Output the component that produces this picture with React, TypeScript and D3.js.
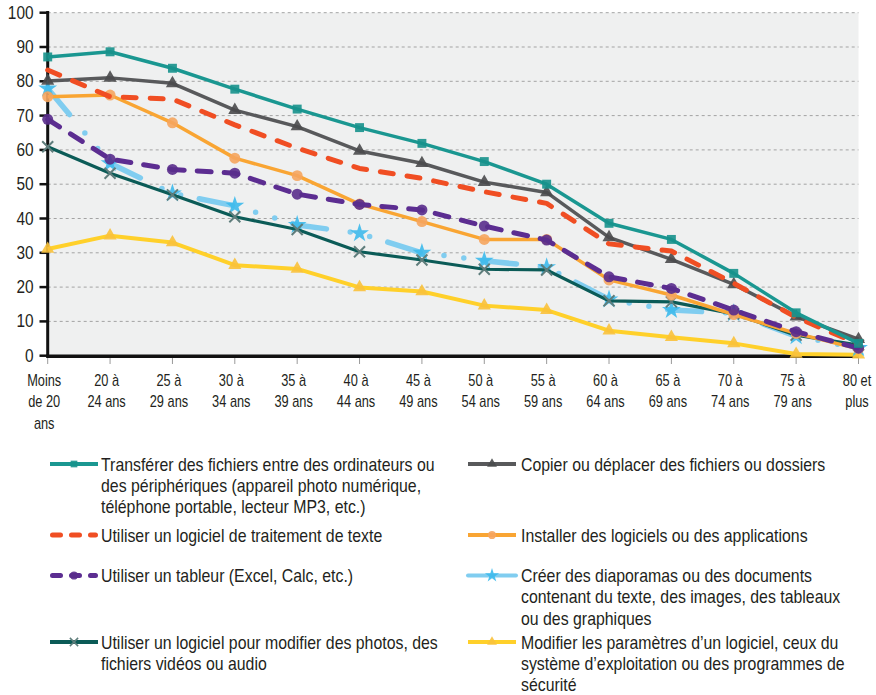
import React, { useEffect, useRef } from 'react';
import * as d3 from 'd3';

// age groups (x axis), each label split into its printed lines
const ageGroups = [
    ['Moins', 'de 20', 'ans'], ['20 à', '24 ans'], ['25 à', '29 ans'], ['30 à', '34 ans'],
    ['35 à', '39 ans'], ['40 à', '44 ans'], ['45 à', '49 ans'], ['50 à', '54 ans'],
    ['55 à', '59 ans'], ['60 à', '64 ans'], ['65 à', '69 ans'], ['70 à', '74 ans'],
    ['75 à', '79 ans'], ['80 et', 'plus'],
];
const yTicks = [0, 10, 20, 30, 40, 50, 60, 70, 80, 90, 100];

// % per age group
const transferer = [87.1, 88.6, 83.8, 77.7, 71.9, 66.5, 61.9, 56.6, 50.0, 38.6, 33.9, 24.0, 12.5, 3.6];
const copier = [80.1, 81.0, 79.4, 71.6, 66.8, 59.7, 56.1, 50.6, 47.6, 34.5, 28.1, 20.8, 11.4, 4.8];
const traitementTexte = [83.3, 75.5, 74.8, 67.3, 60.5, 54.6, 51.7, 47.8, 44.4, 32.6, 30.5, 21.1, 11.2, 3.4];
const installer = [75.5, 76.0, 67.9, 57.6, 52.5, 44.2, 39.1, 33.9, 33.9, 22.1, 17.7, 12.0, 6.5, 2.0];
const tableur = [68.9, 57.3, 54.3, 53.2, 47.1, 44.1, 42.5, 37.8, 33.7, 23.0, 19.6, 13.3, 7.0, 2.2];
const diaporamas = [77.9, 56.1, 47.3, 43.7, 38.1, 35.7, 30.0, 27.7, 25.8, 16.4, 13.3, 12.4, 5.7, 2.2];
const photos = [60.9, 53.2, 46.9, 40.5, 36.8, 30.3, 27.9, 25.2, 25.0, 16.0, 15.7, 12.2, 6.0, 3.1];
const parametres = [31.1, 35.0, 33.0, 26.4, 25.3, 19.9, 18.7, 14.6, 13.3, 7.3, 5.4, 3.6, 0.5, 0.3];

// Arial metrics squeezed horizontally to stand in for the condensed face
const FONT = "'Liberation Sans', Arial, sans-serif";

const series = [
    { key: 'param', values: parametres, color: '#ffd02a', width: 4, dash: null, marker: 'triangle', mColor: '#f9c23c',
      label: ['Modifier les paramètres d’un logiciel, ceux du', 'système d’exploitation ou des programmes de', 'sécurité'], col: 1, row: 3 },
    { key: 'diapo', values: diaporamas, color: '#80cdf0', width: 5.5, dash: '34 24 0 20 0 19', marker: 'star', mColor: '#3dbaec',
      label: ['Créer des diaporamas ou des documents', 'contenant du texte, des images, des tableaux', 'ou des graphiques'], col: 1, row: 2 },
    { key: 'photo', values: photos, color: '#0b5b57', width: 3.2, dash: null, marker: 'x', mColor: '#5f7d7b',
      label: ['Utiliser un logiciel pour modifier des photos, des', 'fichiers vidéos ou audio'], col: 0, row: 3 },
    { key: 'install', values: installer, color: '#f9a533', width: 3.5, dash: null, marker: 'circle', mColor: '#f6a55e',
      label: ['Installer des logiciels ou des applications'], col: 1, row: 1 },
    { key: 'tableur', values: tableur, color: '#5c2d91', width: 5, dash: '14 13', marker: 'circle', mColor: '#5a2d8c',
      label: ['Utiliser un tableur (Excel, Calc, etc.)'], col: 0, row: 2 },
    { key: 'copier', values: copier, color: '#58595b', width: 3.5, dash: null, marker: 'triangle', mColor: '#4a4b4d',
      label: ['Copier ou déplacer des fichiers ou dossiers'], col: 1, row: 0 },
    { key: 'texte', values: traitementTexte, color: '#f04e23', width: 5, dash: '13 14', marker: null, mColor: null,
      label: ['Utiliser un logiciel de traitement de texte'], col: 0, row: 1 },
    { key: 'transf', values: transferer, color: '#1a9791', width: 3.5, dash: null, marker: 'square', mColor: '#16928c',
      label: ['Transférer des fichiers entre des ordinateurs ou', 'des périphériques (appareil photo numérique,', 'téléphone portable, lecteur MP3, etc.)'], col: 0, row: 0 },
];

const drawMarker = (sel, type, color, scale = 1) => {
    if (type === 'x') {
        const r = 5.5 * scale;
        sel.append('path')
            .attr('d', `M${-r},${-r}L${r},${r}M${-r},${r}L${r},${-r}`)
            .attr('stroke', color).attr('stroke-width', 2 * scale).attr('fill', 'none');
        return;
    }
    const sym = { square: d3.symbolSquare, triangle: d3.symbolTriangle, circle: d3.symbolCircle, star: d3.symbolStar }[type];
    const size = { square: 80, triangle: 75, circle: 95, star: 110 }[type] * scale * scale;
    sel.append('path')
        .attr('d', d3.symbol().type(sym).size(size)())
        .attr('fill', color)
        .attr('opacity', 0.9);
};

// text block squeezed horizontally (sx), lines stacked by lh
const narrowText = (parent, x, y, lines, size, sx, lh, anchor = 'start') => {
    const g = parent.append('g').attr('transform', `translate(${x},${y}) scale(${sx},1)`);
    const t = g.append('text')
        .attr('text-anchor', anchor)
        .style('font-family', FONT).style('font-size', `${size}px`)
        .attr('fill', '#231f20');
    lines.forEach((ln, j) => {
        t.append('tspan').attr('x', 0).attr('y', j * lh).text(ln);
    });
    return g;
};

const Chart = () => {
    const svgRef = useRef(null);

    useEffect(() => {
        if (!svgRef.current) return;
        const svg = d3.select(svgRef.current);
        svg.selectAll('*').remove();

        const left = 47.7, right = 858.5, top = 12.7, bottom = 355.7;

        const x = d3.scalePoint<number>()
            .domain(d3.range(ageGroups.length))
            .range([left, right]);
        const y = d3.scaleLinear().domain([0, 100]).range([bottom, top]);

        const defs = svg.append('defs');
        defs.append('filter').attr('id', 'soft')
            .append('feGaussianBlur').attr('stdDeviation', 0.6);

        svg.append('rect')
            .attr('x', left).attr('y', top)
            .attr('width', right - left).attr('height', bottom - top)
            .attr('fill', '#eff0f0');

        // grid
        svg.append('g').selectAll('line')
            .data(yTicks.filter(t => t > 0))
            .enter().append('line')
            .attr('x1', left).attr('x2', right)
            .attr('y1', d => y(d)).attr('y2', d => y(d))
            .attr('stroke', '#a3a3a3').attr('stroke-width', 1)
            .attr('stroke-dasharray', '3,3');

        // y ticks + labels
        const yg = svg.append('g');
        yg.selectAll('line')
            .data(yTicks).enter().append('line')
            .attr('x1', 39.5).attr('x2', left)
            .attr('y1', d => y(d)).attr('y2', d => y(d))
            .attr('stroke', '#111').attr('stroke-width', 2.5);
        yTicks.forEach(t => narrowText(yg, 33.5, y(t) + 6, [String(t)], 17.5, 0.88, 0, 'end'));

        // x ticks + labels
        const xg = svg.append('g');
        xg.selectAll('line')
            .data(d3.range(ageGroups.length)).enter().append('line')
            .attr('x1', d => x(d)).attr('x2', d => x(d))
            .attr('y1', 358).attr('y2', 364)
            .attr('stroke', '#9a9a9a').attr('stroke-width', 1);
        ageGroups.forEach((lines, i) => {
            const cx = x(i) - (i === ageGroups.length - 1 ? 1.5 : 3.5);
            narrowText(xg, cx, 386, lines, 16, 0.8, 21.5, 'middle');
        });

        // axes
        svg.append('line')
            .attr('x1', left).attr('x2', left).attr('y1', 11).attr('y2', bottom + 1.5)
            .attr('stroke', '#111').attr('stroke-width', 3);
        svg.append('line')
            .attr('x1', left - 1.5).attr('x2', right).attr('y1', bottom + 0.5).attr('y2', bottom + 0.5)
            .attr('stroke', '#111').attr('stroke-width', 3.5);

        const line = d3.line<number>().x((d, i) => x(i)).y(d => y(d));

        series.forEach(s => {
            const g = svg.append('g');
            g.append('path')
                .attr('d', line(s.values))
                .attr('fill', 'none')
                .attr('stroke', s.color)
                .attr('stroke-width', s.width)
                .attr('stroke-linejoin', 'round')
                .attr('stroke-linecap', s.dash ? 'round' : 'butt')
                .attr('stroke-dasharray', s.dash);
            if (s.marker) {
                s.values.forEach((v, i) => {
                    const m = g.append('g')
                        .attr('transform', `translate(${x(i)},${y(v)})`)
                        .attr('filter', 'url(#soft)');
                    drawMarker(m, s.marker, s.mColor);
                });
            }
        });

        // legend
        const colX = [{ x1: 50, x2: 98, tx: 101 }, { x1: 468, x2: 516, tx: 521 }];
        const rowY = [464, 535, 575.5, 642];
        series.forEach(s => {
            const c = colX[s.col];
            const ly = rowY[s.row];
            const g = svg.append('g');
            const isDash = !!s.dash && s.key !== 'diapo';
            g.append('line')
                .attr('x1', c.x1 + (isDash ? 2.5 : 0)).attr('x2', c.x2 - (isDash ? 2.5 : 0))
                .attr('y1', ly).attr('y2', ly)
                .attr('stroke', s.color)
                .attr('stroke-width', isDash ? 5 : 4)
                .attr('stroke-linecap', isDash || s.key === 'diapo' ? 'round' : 'butt')
                .attr('stroke-dasharray', isDash ? '8 11' : null);
            if (s.marker) {
                const m = g.append('g').attr('transform', `translate(${(c.x1 + c.x2) / 2},${ly})`);
                drawMarker(m, s.marker, s.mColor, 0.75);
            }
            narrowText(g, c.tx, ly + 6.5, s.label, 19, 0.835, 21.5);
        });
    }, []);

    return (
        <div style={{ position: 'absolute', left: 0, top: 0, width: 876, height: 695, background: '#fff' }}>
            <svg ref={svgRef} width={876} height={695}></svg>
        </div>
    );
};

export default function App() {
    return <Chart />;
}
